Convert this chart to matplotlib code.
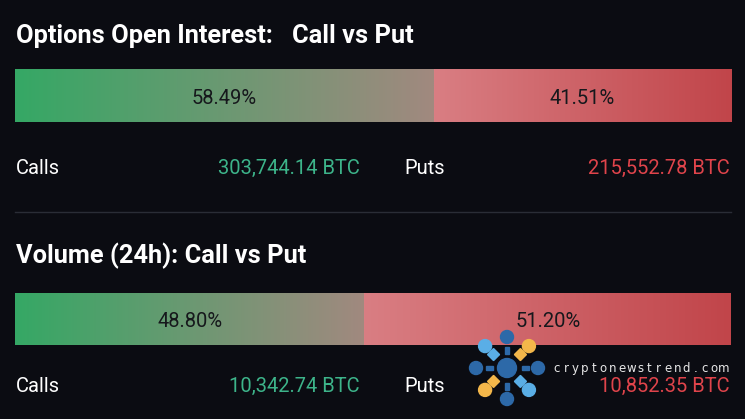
import numpy as np
import matplotlib
matplotlib.use("Agg")
import matplotlib.pyplot as plt
from matplotlib.colors import to_rgb
from matplotlib.patches import Circle, Polygon, Rectangle

# chart data
titles = ["Options Open Interest:   Call vs Put", "Volume (24h): Call vs Put"]
call_pct = [58.49, 48.80]
put_pct = [41.51, 51.20]
call_btc = [303744.14, 10342.74]
put_btc = [215552.78, 10852.35]
row_labels = ["Calls", "Puts"]

BG = "#0b0c12"
FONT = ["Roboto", "DejaVu Sans"]

W, H = 745, 419
fig = plt.figure(figsize=(W / 100, H / 100), dpi=100)
fig.patch.set_facecolor(BG)
ax = fig.add_axes([0, 0, 1, 1])
ax.set_xlim(0, W)
ax.set_ylim(H, 0)
ax.axis("off")
ax.set_facecolor(BG)

x0, x1 = 15, 731
title_y = [43, 263]
bar_top = [70, 293]
bar_h = 52
row_y = [174, 392]


def gradient(xa, xb, ya, yb, c_from, c_to):
    t = np.linspace(0, 1, 256)
    a = np.array(to_rgb(c_from))
    b = np.array(to_rgb(c_to))
    img = (a[None, :] * (1 - t[:, None]) + b[None, :] * t[:, None])[None, :, :]
    ax.imshow(img, extent=(xa, xb, yb, ya), aspect="auto", interpolation="bilinear", zorder=2)


for i in range(2):
    ax.text(16, title_y[i], titles[i], color="white", fontsize=18.3, fontweight="bold",
            family=FONT, ha="left", va="baseline")

    total = call_pct[i] + put_pct[i]
    split = x0 + (x1 - x0) * call_pct[i] / total
    yt, yb = bar_top[i], bar_top[i] + bar_h
    gradient(x0, split, yt, yb, "#35a865", "#a1897f")
    gradient(split, x1, yt, yb, "#d97e83", "#c1454a")
    mid = yt + bar_h / 2 + 7.5
    ax.text((x0 + split) / 2, mid, f"{call_pct[i]:.2f}%", color="#16181c", fontsize=14.5,
            family=FONT, ha="center", va="baseline", zorder=3)
    ax.text((split + x1) / 2, mid, f"{put_pct[i]:.2f}%", color="#16181c", fontsize=14.5,
            family=FONT, ha="center", va="baseline", zorder=3)

    ax.text(16, row_y[i], row_labels[0], color="white", fontsize=14.5, family=FONT,
            ha="left", va="baseline")
    ax.text(360, row_y[i], f"{call_btc[i]:,.2f} BTC", color="#3db48a", fontsize=14.5,
            family=FONT, ha="right", va="baseline")
    ax.text(404, row_y[i], row_labels[1], color="white", fontsize=14.5, family=FONT,
            ha="left", va="baseline")
    ax.text(730, row_y[i], f"{put_btc[i]:,.2f} BTC", color="#e0444b", fontsize=14.5,
            family=FONT, ha="right", va="baseline")

# separator
ax.plot([x0, x1], [212, 212], color="#2a2d36", lw=1, zorder=1)

# watermark logo
cx, cy = 507, 368
dark, light, gold = "#2d69a8", "#5aaee6", "#f4b74a"
ax.add_patch(Circle((cx, cy), 9.5, color=dark, zorder=5))
for k in range(8):
    ang = np.deg2rad(90 - 45 * k)
    dx, dy = np.cos(ang), -np.sin(ang)
    if k % 2 == 0:
        ax.add_patch(Circle((cx + 31 * dx, cy + 31 * dy), 6.5, color=dark, zorder=5))
        rx, ry = cx + 18 * dx, cy + 18 * dy
        w, h = (3.5, 7) if k in (0, 4) else (7, 3.5)
        ax.add_patch(Rectangle((rx - w / 2, ry - h / 2), w, h, color=dark, zorder=5))
    else:
        col = gold if k in (1, 5) else light
        ax.add_patch(Circle((cx + 31 * dx, cy + 31 * dy), 6.5, color=col, zorder=5))
        px, py = cx + 19 * dx, cy + 19 * dy
        s = 6
        ax.add_patch(Polygon([(px, py - s), (px + s, py), (px, py + s), (px - s, py)],
                             closed=True, color=col, zorder=5))

wm = "cryptonewstrend.com"
for j, ch in enumerate(wm):
    ax.text(557 + j * 9.25, 372, ch, color="#e8e8e8", fontsize=8.5, family=["DejaVu Sans"],
            ha="center", va="baseline", zorder=5)

fig.savefig("out.png", dpi=100, facecolor=BG)
